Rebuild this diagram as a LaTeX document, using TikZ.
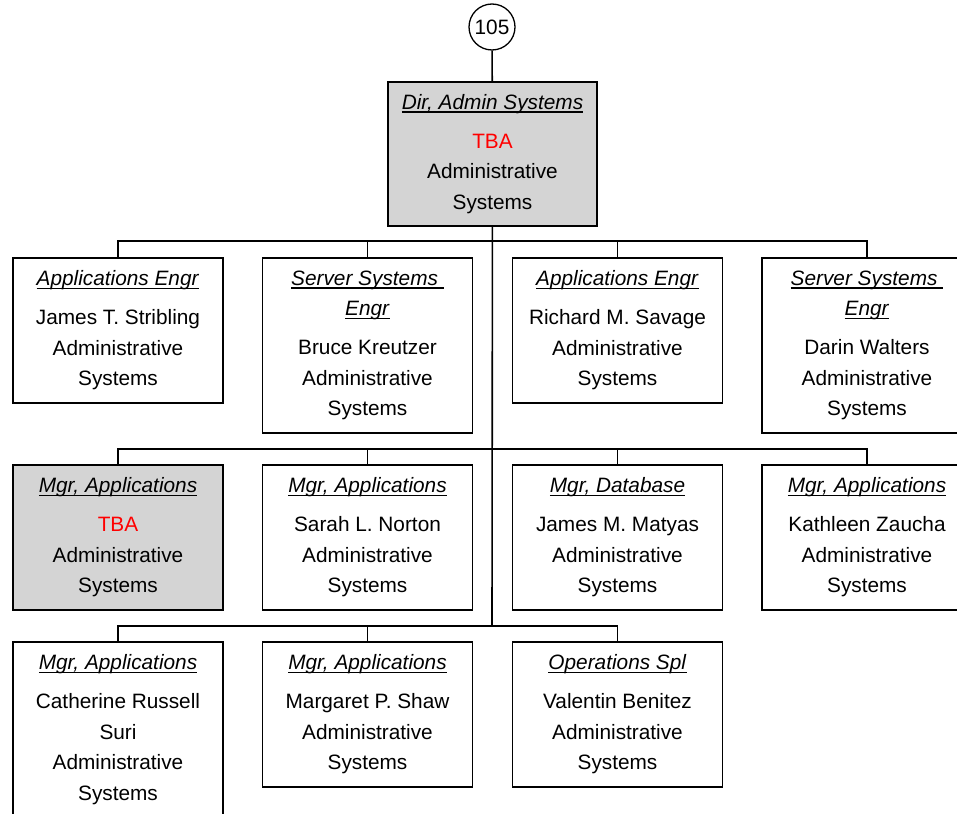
\documentclass[tikz,border=0pt]{standalone}
\usepackage{fontspec}
\setmainfont{Liberation Sans}
\definecolor{vacant}{HTML}{D4D4D4}
\newcommand{\jobtitle}[1]{\leavevmode\sbox0{\textit{#1}}\rlap{\usebox0}\rule[-3.6pt]{\wd0}{1.7pt}}
\newcommand{\tba}{\textcolor{red}{TBA}}
\begin{document}
\begin{tikzpicture}[x=1pt,y=-1pt,line width=1.6pt]
  \tikzstyle{post}=[draw, line width=1.8pt, fill=white, minimum width=210pt, minimum height=145pt, align=center, inner sep=0pt, font=\fontsize{20.8}{30.5}\selectfont]
  \tikzstyle{tallpost}=[post, minimum height=175pt]
  \tikzstyle{open}=[post, fill=vacant]
  \tikzstyle{pageref}=[draw, circle, line width=1.3pt, minimum size=46pt, inner sep=0pt, font=\fontsize{20.8}{24}\selectfont]

  \clip (0,0) rectangle (957,813);

  \node[pageref] (page) at (492,27) {105};
  \node[open, minimum width=209pt, minimum height=144pt] (dir) at (492.5,154) {\jobtitle{Dir, Admin Systems}\\[8.5pt]\tba\\Administrative\\Systems};

  \node[post] (stribling) at (118,330.5) {\jobtitle{Applications Engr}\\[8.5pt]James T. Stribling\\Administrative\\Systems};
  \node[tallpost] (kreutzer) at (367.5,345.5) {\jobtitle{Server Systems }\\\jobtitle{Engr}\\[8.5pt]Bruce Kreutzer\\Administrative\\Systems};
  \node[post] (savage) at (617.5,330.5) {\jobtitle{Applications Engr}\\[8.5pt]Richard M. Savage\\Administrative\\Systems};
  \node[tallpost] (walters) at (867,345.5) {\jobtitle{Server Systems }\\\jobtitle{Engr}\\[8.5pt]Darin Walters\\Administrative\\Systems};

  \node[open] (vacancy) at (118,537.5) {\jobtitle{Mgr, Applications}\\[8.5pt]\tba\\Administrative\\Systems};
  \node[post] (norton) at (367.5,537.5) {\jobtitle{Mgr, Applications}\\[8.5pt]Sarah L. Norton\\Administrative\\Systems};
  \node[post] (matyas) at (617.5,537.5) {\jobtitle{Mgr, Database}\\[8.5pt]James M. Matyas\\Administrative\\Systems};
  \node[post] (zaucha) at (867,537.5) {\jobtitle{Mgr, Applications}\\[8.5pt]Kathleen Zaucha\\Administrative\\Systems};

  \node[tallpost] (suri) at (118,729.5) {\jobtitle{Mgr, Applications}\\[8.5pt]Catherine Russell\\Suri\\Administrative\\Systems};
  \node[post] (shaw) at (367.5,714.5) {\jobtitle{Mgr, Applications}\\[8.5pt]Margaret P. Shaw\\Administrative\\Systems};
  \node[post] (benitez) at (617.5,714.5) {\jobtitle{Operations Spl}\\[8.5pt]Valentin Benitez\\Administrative\\Systems};

  % junctions on the trunk
  \coordinate (rowA) at (492,241);
  \coordinate (rowB) at (492,449);
  \coordinate (rowC) at (492,626);

  \draw (page) -- (dir);
  \draw (dir) -- (rowC);
  \foreach \p in {stribling,kreutzer,savage,walters}
    \draw (\p.north) |- (rowA);
  \foreach \p in {vacancy,norton,matyas,zaucha}
    \draw (\p.north) |- (rowB);
  \foreach \p in {suri,shaw,benitez}
    \draw (\p.north) |- (rowC);
\end{tikzpicture}
\end{document}
